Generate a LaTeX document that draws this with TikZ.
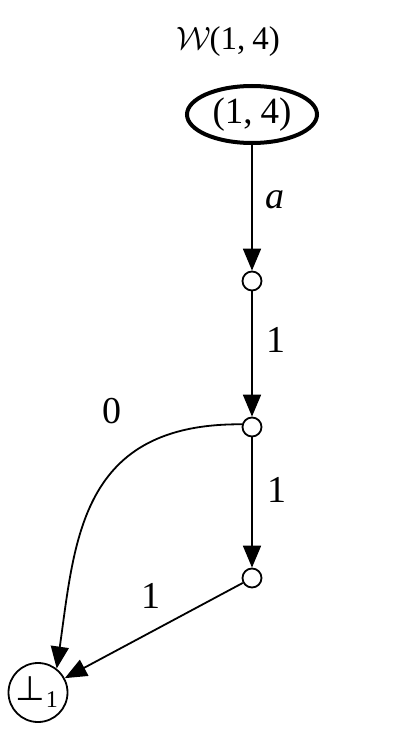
\documentclass[tikz,border=0pt]{standalone}
\usepackage{fontspec}
\setmainfont{Liberation Serif}
\newfontfamily\symfnt{DejaVu Sans}
\usetikzlibrary{shapes.geometric,arrows.meta}
\begin{document}
\begin{tikzpicture}[x=1pt,y=1pt,
  vertex/.style={circle,draw,line width=1.8pt,minimum size=19pt,inner sep=0pt},
  term/.style={circle,draw,line width=1.8pt,minimum size=59pt,inner sep=0pt,font=\fontsize{34}{40}\selectfont},
  root/.style={ellipse,draw,line width=4pt,minimum width=130pt,minimum height=57pt,inner sep=0pt,font=\fontsize{37}{42}\selectfont},
  lbl/.style={inner sep=0pt,font=\fontsize{38}{44}\selectfont},
  ttl/.style={inner sep=0pt,font=\fontsize{33}{38}\selectfont},
  conn/.style={line width=1.8pt,-{Triangle[length=22pt,width=18pt]}}
]
\useasboundingbox (0,0) rectangle (415,-733);
\node[ttl] (title) at (228,-42) {\scalebox{1.3}{$\mathcal{W}$}\kern-1pt(1,\kern7pt4)};
\node[root] (r) at (252,-114.5) {\raisebox{-3pt}{(1,\kern8pt4)}};
\node[vertex] (n2) at (252,-281) {};
\node[vertex] (n3) at (252,-427) {};
\node[vertex] (n4) at (252,-578) {};
\node[term] (bot) at (38,-692.5) {\kern-3pt{\symfnt\fontsize{34}{40}\selectfont ⊥}\kern1pt\raisebox{-7pt}{\fontsize{24}{28}\selectfont 1}};
\draw[conn] (r) -- (n2);
\draw[conn] (n2) -- (n3);
\draw[conn] (n3) -- (n4);
\draw[conn] (n4) -- (bot);
\draw[conn] (n3.165) .. controls (80,-423) and (75,-540) .. (bot.52);
\node[lbl] (la) at (275,-200) {\textit{a}};
\node[lbl] (l1) at (276,-340) {1};
\node[lbl] (l2) at (277,-490) {1};
\node[lbl] (l3) at (151,-596) {1};
\node[lbl] (l0) at (112,-411) {0};
\end{tikzpicture}
\end{document}
